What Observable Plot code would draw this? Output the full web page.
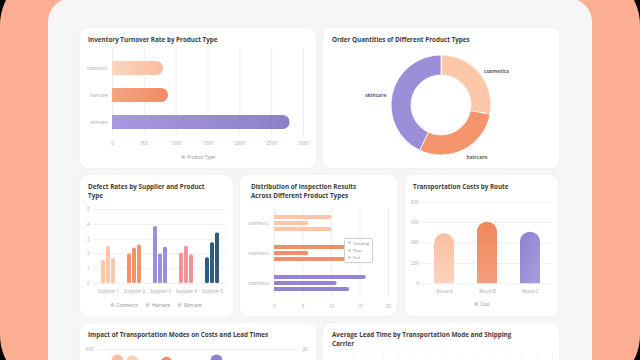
<!DOCTYPE html>
<html><head><meta charset="utf-8">
<script src="https://cdn.jsdelivr.net/npm/d3@7"></script>
<script src="https://cdn.jsdelivr.net/npm/@observablehq/plot@0.6"></script>
<style>
html,body{margin:0;padding:0;width:640px;height:360px;overflow:hidden;background:#000;}
#frame{position:absolute;left:0;top:-30px;width:640px;height:420px;border-radius:55px;background:#fcae92;}
#panel{position:absolute;left:48px;top:-2px;width:544px;height:390px;border-radius:24px;background:#f6f6f6;}
.card{position:absolute;background:#fff;border-radius:8px;box-shadow:0 0 3px rgba(0,0,0,0.05);overflow:hidden;}
.card svg.plot{position:absolute;left:0;top:0;overflow:visible;}
.title{position:absolute;font-family:"Open Sans",sans-serif;font-weight:700;font-size:6.3px;color:#3d3d3d;line-height:9.3px;white-space:nowrap;z-index:2;}
.legend{position:absolute;font-family:"Open Sans",sans-serif;font-size:4.5px;color:#8a8a8a;white-space:nowrap;transform:translate(-50%,-50%);z-index:2;}
.legend span{margin:0 4px;}
.dot{display:inline-block;width:4px;height:4px;border-radius:50%;background:#cfcfcf;margin-right:2px;vertical-align:middle;position:relative;top:-0.5px;}
.tipbox{position:absolute;background:#fff;border:0.7px solid #cfcfcf;border-radius:1.5px;font-family:"Open Sans",sans-serif;font-size:4.2px;color:#8a8a8a;line-height:7.3px;padding:0.5px 3px 0.5px 3px;z-index:2;box-shadow:0 0 2px rgba(0,0,0,0.08);}
</style></head>
<body>
<svg width="0" height="0" style="position:absolute">
  <defs>
    <linearGradient id="gInvC" x1="0" y1="0" x2="1" y2="0"><stop offset="0" stop-color="#fdd5bf"/><stop offset="1" stop-color="#f9bc9d"/></linearGradient>
    <linearGradient id="gInvH" x1="0" y1="0" x2="1" y2="0"><stop offset="0" stop-color="#f6a580"/><stop offset="1" stop-color="#ee8b65"/></linearGradient>
    <linearGradient id="gInvS" x1="0" y1="0" x2="1" y2="0"><stop offset="0" stop-color="#a798df"/><stop offset="1" stop-color="#8e7fcb"/></linearGradient>
    <linearGradient id="gRouteA" x1="0" y1="0" x2="0" y2="1"><stop offset="0" stop-color="#fcbf9f"/><stop offset="1" stop-color="#fdd3bc"/></linearGradient>
    <linearGradient id="gRouteB" x1="0" y1="0" x2="0" y2="1"><stop offset="0" stop-color="#ef865d"/><stop offset="1" stop-color="#f59f7b"/></linearGradient>
    <linearGradient id="gRouteC" x1="0" y1="0" x2="1" y2="1"><stop offset="0" stop-color="#8f80cf"/><stop offset="1" stop-color="#aa9edf"/></linearGradient>
  </defs>
</svg>
<div id="frame"></div>
<div id="panel"></div>

<div class="card" id="c1" style="left:80px;top:28px;width:236px;height:140px;">
  <div class="title" style="left:8px;top:6.5px;">Inventory Turnover Rate by Product Type</div>
  <div class="legend" style="left:118px;top:129px;"><span><i class="dot"></i>Product Type</span></div>
</div>
<div class="card" id="c2" style="left:323px;top:28px;width:236px;height:140px;">
  <div class="title" style="left:9px;top:6.5px;">Order Quantities of Different Product Types</div>
</div>
<div class="card" id="c3" style="left:80px;top:175px;width:153px;height:142px;">
  <div class="title" style="left:8px;top:7px;">Defect Rates by Supplier and Product<br>Type</div>
  <div class="legend" style="left:76px;top:130px;"><span><i class="dot"></i>Cosmetics</span><span><i class="dot"></i>Haircare</span><span><i class="dot"></i>Skincare</span></div>
</div>
<div class="card" id="c4" style="left:240px;top:175px;width:157px;height:141px;">
  <div class="title" style="left:11px;top:7px;">Distribution of Inspection Results<br>Across Different Product Types</div>
  <div class="tipbox" id="tip" style="left:104px;top:63px;"></div>
</div>
<div class="card" id="c5" style="left:405px;top:175px;width:153px;height:141px;">
  <div class="title" style="left:8px;top:6.5px;">Transportation Costs by Route</div>
  <div class="legend" style="left:77px;top:129px;"><span><i class="dot"></i>Cost</span></div>
</div>
<div class="card" id="c6" style="left:80px;top:323px;width:236px;height:140px;">
  <div class="title" style="left:8px;top:6.5px;">Impact of Transportation Modes on Costs and Lead Times</div>
</div>
<div class="card" id="c7" style="left:323px;top:323px;width:236px;height:140px;">
  <div class="title" style="left:9px;top:6.5px;">Average Lead Time by Transportation Mode and Shipping<br>Carrier</div>
</div>

<script>
// ---------- DATA ----------
const inventoryTypes = ["cosmetics", "haircare", "skincare"];
const inventoryTurnover = [800, 880, 2790];
const inventoryColors = ["url(#gInvC)", "url(#gInvH)", "url(#gInvS)"];
const inventoryTicks = [0, 500, 1000, 1500, 2000, 2500, 3000];

const orderTypes = ["cosmetics", "haircare", "skincare"];
const orderQuantities = [1460, 1515, 2245];
const orderColors = ["#fdc7a9", "#f4946c", "#9b8dd8"];

const suppliers = ["Supplier 1", "Supplier 2", "Supplier 3", "Supplier 4", "Supplier 5"];
const defectProducts = ["Cosmetics", "Haircare", "Skincare"];
const defectCosmetics = [1.55, 2.0, 3.85, 2.05, 1.74];
const defectHaircare = [2.5, 2.4, 2.0, 2.52, 2.75];
const defectSkincare = [1.69, 2.6, 2.45, 1.94, 3.42];
const supplierColors = ["#fcc6a9", "#f0956a", "#9d8edb", "#f3929a", "#2e5d80"];
const defectTicks = [0, 1, 2, 3, 4, 5];

const inspectionGroups = ["cosmetics", "haircare", "skincare"];
const inspectionTickLabels = ["cosmetics", "cosmetics", "cosmetics"];
const inspectionResults = ["Pending", "Pass", "Fail"];
const inspectionPending = [10.1, 14.2, 16.1];
const inspectionPass = [6.0, 6.0, 11.0];
const inspectionFail = [10.1, 13.6, 13.2];
const inspectionColors = ["#fcc5a7", "#f28f67", "#9284d2"];
const inspectionTicks = [0, 5, 10, 15, 20];

const routes = ["Route A", "Route B", "Route C"];
const routeCosts = [490, 604, 506];
const routeColors = ["url(#gRouteA)", "url(#gRouteB)", "url(#gRouteC)"];
const routeTicks = [0, 200, 400, 600, 800];

const transportModes = ["Air", "Rail", "Road", "Sea"];
const modeLeadTimes = [0.95, 1.7, 3.4, 5.9];
const modeCosts = [528, 522, 512, 528];
const modeColors = ["#fbbd9f", "#fdd2bd", "#ef8e68", "#8f80cf"];
const costTicks = [0, 150, 300, 450, 600];
const costTickLabels = [600];

const carriers = ["Carrier A", "Carrier B", "Carrier C"];
const carrierLeadAir = [14, 18, 11];
const carrierLeadRoad = [16, 12, 20];
const leadTicks = d3.range(0, 28, 2);

// ---------- HELPERS ----------
const baseStyle = {fontFamily: "Open Sans, sans-serif", fontSize: "4.5px", color: "#a9a9a9", background: "transparent", overflow: "visible"};
const mount = (id, el) => { el.classList.add("plot"); document.getElementById(id).appendChild(el); };

// ---------- 1. Inventory turnover ----------
const inventoryRows = inventoryTypes.map((t, i) => ({type: t, value: inventoryTurnover[i]}));
mount("c1", Plot.plot({
  width: 236, height: 140, marginTop: 20, marginBottom: 33, marginLeft: 32, marginRight: 13,
  style: baseStyle,
  x: {domain: [0, 3000]},
  y: {domain: inventoryTypes, range: [18.4, 114.6], padding: 0.5},
  color: {domain: inventoryTypes, range: inventoryColors},
  marks: [
    Plot.gridX(inventoryTicks, {stroke: "#ececec", strokeOpacity: 1}),
    Plot.axisX(inventoryTicks, {tickSize: 0, tickPadding: 6, label: null, tickFormat: "d"}),
    Plot.axisY({tickSize: 0, tickPadding: 5, label: null}),
    Plot.barX(inventoryRows, {y: "type", x: "value", fill: "type", rx2: 6.9})
  ]
}));

// ---------- 2. Order quantities donut ----------
const orderRows = orderTypes.map((t, i) => ({type: t, q: orderQuantities[i], color: orderColors[i]}));
mount("c2", Plot.plot({
  width: 236, height: 140, margin: 0,
  style: baseStyle,
  marks: [
    (index, scales, values, dims) => {
      const g = d3.create("svg:g").attr("transform", "translate(118,77)");
      const arcs = d3.pie().sort(null).value(d => d.q)(orderRows);
      const arc = d3.arc().innerRadius(30).outerRadius(50);
      g.selectAll("path").data(arcs).join("path")
        .attr("d", arc).attr("fill", d => d.data.color)
        .attr("stroke", "#fff").attr("stroke-width", 0.8);
      g.selectAll("text").data(arcs).join("text")
        .each(function(d) {
          const a = (d.startAngle + d.endAngle) / 2;
          const x = 56 * Math.sin(a), y = -56 * Math.cos(a);
          d3.select(this).attr("x", x).attr("y", y + 2)
            .attr("text-anchor", x > 0 ? "start" : "end");
        })
        .attr("dy", "0.35em")
        .attr("font-size", 5).attr("font-weight", 700).attr("fill", "#5e5c7e")
        .text(d => d.data.type);
      return g.node();
    }
  ]
}));

// ---------- 3. Defect rates ----------
const defectSeries = [defectCosmetics, defectHaircare, defectSkincare];
const defectRows = [];
defectProducts.forEach((p, j) => suppliers.forEach((s, i) => defectRows.push({supplier: s, product: p, value: defectSeries[j][i]})));
const defectInsets = {Cosmetics: [0, 10], Haircare: [5, 5], Skincare: [10, 0]};
mount("c3", Plot.plot({
  width: 153, height: 142, marginTop: 34, marginBottom: 34, marginLeft: 13, marginRight: 6,
  style: baseStyle,
  x: {domain: suppliers, padding: 0.478, paddingOuter: 0.239},
  y: {domain: [0, 5]},
  color: {domain: suppliers, range: supplierColors},
  marks: [
    Plot.gridY(defectTicks, {stroke: "#efefef", strokeOpacity: 1}),
    Plot.axisY(defectTicks, {tickSize: 0, tickPadding: 4, label: null}),
    Plot.axisX({tickSize: 0, tickPadding: 6, label: null}),
    ...defectProducts.map(p => Plot.barY(defectRows.filter(d => d.product === p), {
      x: "supplier", y: "value", fill: "supplier", rx: 1.6,
      insetLeft: defectInsets[p][0], insetRight: defectInsets[p][1]
    }))
  ]
}));

// ---------- 4. Inspection results ----------
const inspectionSeries = {Pending: inspectionPending, Pass: inspectionPass, Fail: inspectionFail};
const inspectionRows = [];
inspectionResults.forEach(r => inspectionGroups.forEach((g, i) => inspectionRows.push({group: g, result: r, value: inspectionSeries[r][i]})));
const inspectionInsets = {Pending: [0, 11.9], Pass: [6, 5.9], Fail: [11.9, 0]};
mount("c4", Plot.plot({
  width: 157, height: 141, marginTop: 33, marginBottom: 18, marginLeft: 34, marginRight: 9,
  style: baseStyle,
  x: {domain: [0, 20]},
  y: {domain: inspectionGroups, padding: 0.47, paddingOuter: 0.235},
  color: {domain: inspectionGroups, range: inspectionColors},
  marks: [
    Plot.gridX(inspectionTicks, {stroke: "#ededed", strokeOpacity: 1}),
    Plot.axisX(inspectionTicks, {tickSize: 0, tickPadding: 6, label: null}),
    Plot.axisY({tickSize: 0, tickPadding: 5.7, label: null, tickFormat: (d, i) => inspectionTickLabels[i]}),
    ...inspectionResults.map(r => Plot.barX(inspectionRows.filter(d => d.result === r), {
      y: "group", x: "value", fill: "group", rx2: 2,
      insetTop: inspectionInsets[r][0], insetBottom: inspectionInsets[r][1]
    }))
  ]
}));
document.getElementById("tip").innerHTML = inspectionResults.map(r => `<div><i class="dot" style="width:3.2px;height:3.2px"></i>${r}</div>`).join("");

// ---------- 5. Transportation costs ----------
const routeRows = routes.map((r, i) => ({route: r, cost: routeCosts[i]}));
mount("c5", Plot.plot({
  width: 153, height: 141, marginTop: 26.7, marginBottom: 32.7, marginLeft: 16.7, marginRight: 6.3,
  style: baseStyle,
  x: {domain: routes, padding: 0.53, paddingOuter: 0.265},
  y: {domain: [0, 800]},
  color: {domain: routes, range: routeColors},
  marks: [
    Plot.gridY(routeTicks, {stroke: "#efefef", strokeOpacity: 1}),
    Plot.axisY(routeTicks, {tickSize: 0, tickPadding: 3.4, label: null}),
    Plot.axisX({tickSize: 0, tickPadding: 6, label: null}),
    Plot.barY(routeRows, {x: "route", y: "cost", fill: "route", ry1: 10.2})
  ]
}));

// ---------- 6. Transport modes bubbles ----------
const modeRows = transportModes.map((m, i) => ({mode: m, lead: modeLeadTimes[i], cost: modeCosts[i]}));
mount("c6", Plot.plot({
  width: 236, height: 140, marginTop: 26, marginBottom: 23, marginLeft: 18, marginRight: 18,
  style: baseStyle,
  x: {domain: [0, 10], axis: null},
  y: {domain: [0, 600]},
  color: {domain: transportModes, range: modeColors},
  marks: [
    Plot.gridY(costTicks, {stroke: "#efefef", strokeOpacity: 1}),
    Plot.axisY(costTickLabels, {anchor: "left", tickSize: 0, tickPadding: 5, label: null}),
    Plot.axisY(costTickLabels, {anchor: "right", tickSize: 0, tickPadding: 4, label: null, tickFormat: d => d / 30}),
    Plot.dot(modeRows, {x: "lead", y: "cost", fill: "mode", r: 6})
  ]
}));

// ---------- 7. Average lead time ----------
const carrierRows = [];
carriers.forEach((c, i) => {
  carrierRows.push({carrier: c, mode: "Air", lead: carrierLeadAir[i]});
  carrierRows.push({carrier: c, mode: "Road", lead: carrierLeadRoad[i]});
});
mount("c7", Plot.plot({
  width: 236, height: 140, marginTop: 33, marginBottom: 20, marginLeft: 29, marginRight: 7,
  style: baseStyle,
  x: {domain: [0, 26], axis: null},
  y: {domain: carriers, padding: 0.4, axis: null},
  marks: [
    Plot.gridX(leadTicks, {stroke: "#e3e3e3", strokeOpacity: 1, strokeDasharray: "1,1"}),
    Plot.barX(carrierRows.filter(d => d.mode === "Air"), {y: "carrier", x: "lead", fill: "#fcc5a7", insetBottom: 12}),
    Plot.barX(carrierRows.filter(d => d.mode === "Road"), {y: "carrier", x: "lead", fill: "#9284d2", insetTop: 12})
  ]
}));
</script>
</body></html>
